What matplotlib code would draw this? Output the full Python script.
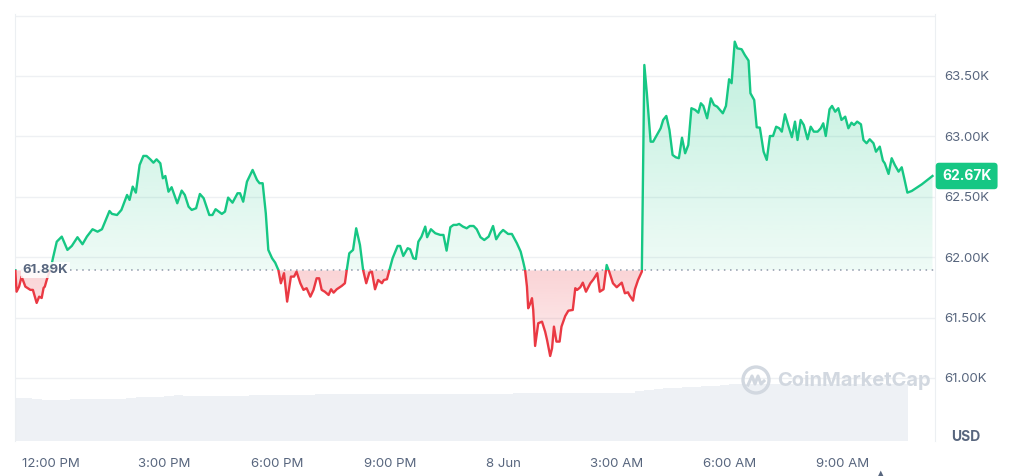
import numpy as np
import matplotlib
matplotlib.use('Agg')
import matplotlib.pyplot as plt
from matplotlib.path import Path
from matplotlib.patches import Rectangle, Ellipse
from matplotlib.lines import Line2D

plt.rcParams['font.family'] = ['Inter', 'DejaVu Sans']

# BTC price, minutes after 11:00 AM on 7 Jun
minutes = [3, 5, 9, 13, 19, 27, 31, 37, 41, 45, 48, 50, 53, 60, 63, 69, 77, 86, 93, 102,
           110, 117, 126, 134, 141, 153, 157, 165, 172, 181, 185, 190, 195, 201, 207, 212, 218, 223, 228, 234,
           238, 242, 247, 252, 261, 268, 273, 279, 284, 291, 297, 303, 312, 317, 322,
           332, 337, 342, 349, 357, 361, 366, 372, 381, 388, 392, 397, 402, 406, 412, 417, 422, 426, 431, 436,
           442, 447, 451, 457, 462, 467, 473, 478, 483, 487, 491, 496, 502, 506, 510, 515, 523, 528, 531, 535,
           541, 546, 552, 557, 562, 567, 571, 576, 581, 587, 590, 595, 599, 604, 612, 616, 621, 628, 632, 637,
           641, 645, 650, 656, 659, 665, 672, 680, 685, 690, 696, 701, 706, 710, 716, 722, 727, 733, 738, 744,
           750, 757, 764, 769, 775, 780, 788, 794, 802, 808, 812, 815, 818, 820, 823, 826, 828, 831, 836, 842,
           847, 850, 855, 858, 861, 865, 870, 873, 879, 884, 891, 895, 898, 903, 907, 912, 919, 924, 930, 934,
           940, 945, 949, 955, 961, 969, 974, 979, 981, 987, 990, 995, 1001, 1005, 1009, 1015, 1019, 1025, 1031,
           1035, 1040, 1045, 1050, 1055, 1060, 1065, 1070, 1075, 1080, 1086, 1091, 1095, 1099, 1105, 1111, 1116,
           1121, 1130, 1135, 1140, 1144, 1149, 1153, 1160, 1165, 1171, 1174, 1180, 1184, 1189, 1195, 1200, 1205,
           1210, 1215, 1220, 1224, 1229, 1234, 1240, 1245, 1249, 1254, 1259, 1265, 1270, 1275, 1281, 1286, 1290,
           1294, 1300, 1304, 1309, 1314, 1319, 1325, 1330, 1335, 1339, 1344, 1350, 1354, 1359, 1364, 1370, 1374,
           1380, 1385, 1388, 1394, 1399, 1404, 1410, 1415, 1419, 1424, 1431, 1447, 1464]
price = [61890, 61714, 61756, 61839, 61756, 61729, 61729, 61621, 61673, 61662, 61745, 61756, 61811, 61921,
         61993, 62128, 62170, 62060, 62093, 62165, 62107, 62170, 62231, 62211, 62231, 62382, 62358, 62349,
         62391, 62515, 62474, 62584, 62534, 62763, 62838, 62838, 62810, 62782, 62810, 62777, 62653, 62672,
         62542, 62579, 62446, 62551, 62515, 62418, 62391, 62405, 62523, 62488, 62349, 62349, 62397, 62358,
         62377, 62493, 62451, 62529, 62529, 62459, 62625, 62722, 62639, 62612, 62612, 62363, 62060, 61991,
         61954, 61894, 61784, 61867, 61632, 61839, 61839, 61880, 61784, 61729, 61743, 61673, 61729, 61825,
         61825, 61729, 61714, 61687, 61734, 61706, 61734, 61762, 61784, 61894, 62032, 62060, 62239, 62101,
         61894, 61784, 61872, 61880, 61734, 61811, 61784, 61811, 61817, 61894, 61991, 62093, 62093, 62010,
         62074, 62065, 61991, 61985, 62128, 62170, 62253, 62165, 62231, 62198, 62184, 62184, 62054, 62248,
         62267, 62267, 62275, 62253, 62239, 62258, 62258, 62231, 62165, 62142, 62170, 62258, 62148, 62198,
         62225, 62192, 62192, 62115, 62046, 61963, 61894, 61756, 61577, 61613, 61660, 61563, 61265, 61453,
         61466, 61383, 61315, 61182, 61246, 61425, 61301, 61301, 61425, 61513, 61557, 61563, 61743, 61729,
         61751, 61789, 61714, 61784, 61817, 61867, 61714, 61734, 61935, 61880, 61784, 61751, 61789, 61701,
         61709, 61687, 61640, 61734, 61811, 61880,
         63591, 63357, 62956, 62956, 63012, 63067, 63136, 63169, 63053, 62846, 62827, 62819, 62989, 62860,
         62929, 63233, 63219, 63196, 63274,
         63252, 63150, 63315, 63260, 63246, 63191, 63252, 63473, 63440, 63784, 63729, 63721, 63674, 63627,
         63357, 63301, 63075, 63072, 62873, 62805, 63003, 63003, 63080, 63067, 63039, 63183, 63094, 62993,
         63122, 62970, 63136, 63094, 62976, 63080, 63039, 63039, 63067, 63108, 63003, 63224, 63252, 63204,
         63233, 63136, 63163, 63067, 63113, 63094, 63122, 63100, 62970, 62943, 62976, 62943, 62873, 62915,
         62799, 62777, 62689, 62819, 62763, 62708, 62744, 62653, 62534, 62548, 62603, 62672]
open_price = 61890

# 24h volume (USD bn), 15-minute buckets from 11:00 AM
vol_step = 15
volume = [21.5, 21.5, 21, 20.5, 20.5, 20.5, 21, 21, 21, 21, 21, 21,
          21.5, 22, 22, 22, 22.5, 23, 22.5, 22.5, 22.5, 22.5, 22.5, 22.5,
          22.5, 23, 23, 23, 23, 23, 23, 23,
          23.5, 23.5, 23.5, 23.5, 23.5, 23.5, 23.5, 23.5, 23.5, 23.5,
          23.5, 23.5, 23.5, 23.5, 23.5, 23.5, 23.5, 23.5, 23.5, 23.5,
          23.5, 24, 24, 24, 24, 24, 24, 24, 24, 24, 24, 24,
          24, 24, 25, 25.5, 26, 26.5, 26.5, 27, 27, 27.5, 27.5, 28,
          28.5, 28.5, 28.5, 28.5, 28.5, 28.5, 28.5, 28.5,
          28.5, 28.5, 28.5, 28.5, 28.5, 28.5, 28.5, 28.5, 28.5, 28.5, 28.5]

tick_min = [60, 240, 420, 600, 780, 960, 1140, 1320]
tick_lab = ['12:00 PM', '3:00 PM', '6:00 PM', '9:00 PM', '8 Jun', '3:00 AM', '6:00 AM', '9:00 AM']
price_ticks = [61000, 61500, 62000, 62500, 63000, 63500]

GREEN, RED, GREY = '#16c784', '#ea3943', '#58667e'
t = np.array(minutes, float)
p = np.array(price, float)
x0, x1 = 2.5, 1468
y0, y1 = 60478, 64013

W, H = 1017, 476
fig = plt.figure(figsize=(W / 100, H / 100), dpi=100)
rect = [15 / W, 1 - 441 / H, 920 / W, 427 / H]

axv = fig.add_axes(rect, zorder=0)
axv.bar(np.arange(len(volume)) * vol_step, volume, width=vol_step, align='edge',
        color='#eef1f5', linewidth=0)
axv.set_xlim(x0, x1)
axv.set_ylim(0, 213.5)
axv.axis('off')

ax = fig.add_axes(rect, zorder=1)
ax.patch.set_alpha(0)
for v in price_ticks + [64000]:
    ax.axhline(v, color='#eef0f3', lw=1, zorder=0)

# gradient fills above / below the opening price
def grad_fill(mask_up, color, a_top, a_bot, lo, hi):
    poly = ax.fill_between(t, p, open_price, where=(p >= open_price) if mask_up else (p <= open_price),
                           interpolate=True, facecolor='none', edgecolor='none')
    path = Path.make_compound_path(*poly.get_paths())
    rgb = matplotlib.colors.to_rgb(color)
    n = 256
    arr = np.zeros((n, 1, 4))
    arr[..., :3] = rgb
    arr[:, 0, 3] = np.linspace(a_top, a_bot, n)
    im = ax.imshow(arr, extent=[x0, x1, lo, hi], aspect='auto', origin='upper',
                   interpolation='bilinear', zorder=2)
    im.set_clip_path(path, ax.transData)

grad_fill(True, GREEN, 0.30, 0.07, open_price, y1)
grad_fill(False, RED, 0.22, 0.06, 61000, open_price)

ax.axhline(open_price, color='#8f99aa', lw=1.1, ls=(0, (1, 3)), zorder=3)

g, = ax.plot(t, p, color=GREEN, lw=1.7, zorder=4, solid_joinstyle='round')
g.set_clip_path(Rectangle((x0, open_price), x1 - x0, y1 - open_price, transform=ax.transData))
r, = ax.plot(t, p, color=RED, lw=1.7, zorder=4, solid_joinstyle='round')
r.set_clip_path(Rectangle((x0, y0), x1 - x0, open_price - y0, transform=ax.transData))

ax.set_xlim(x0, x1)
ax.set_ylim(y0, y1)
for s in ['top', 'bottom']:
    ax.spines[s].set_visible(False)
for s in ['left', 'right']:
    ax.spines[s].set_color('#eceff2')

ax.yaxis.tick_right()
ax.set_yticks(price_ticks)
ax.set_yticklabels([f'{v / 1000:.2f}K' for v in price_ticks])
ax.tick_params(axis='y', length=0, pad=7, labelsize=9.5, labelcolor=GREY)
ax.set_xticks(tick_min)
ax.set_xticklabels(tick_lab)
ax.tick_params(axis='x', length=0, pad=12, labelsize=9.5, labelcolor=GREY)

ax.annotate(f'{open_price / 1000:.2f}K', xy=(0, open_price), xycoords=('axes fraction', 'data'),
            xytext=(5.5, 0), textcoords='offset points', ha='left', va='center',
            fontsize=9.5, fontweight='bold', color=GREY, zorder=6,
            bbox=dict(boxstyle='square,pad=0.15', fc='white', ec='none', alpha=0.85))

ax.annotate(f'{price[-1] / 1000:.2f}K', xy=(1, price[-1]), xycoords=('axes fraction', 'data'),
            xytext=(5, 0), textcoords='offset points', ha='left', va='center',
            fontsize=10, fontweight='bold', color='white', annotation_clip=False,
            bbox=dict(boxstyle='round,pad=0.45,rounding_size=0.25', fc=GREEN, ec='none'))

fig.text(966 / W, 1 - 437 / H, 'USD', ha='center', va='center', fontsize=10,
         fontweight='bold', color=GREY)

# watermark
wm = '#d2d8e0'
fig.text(777 / W, 1 - 381 / H, 'CoinMarketCap', ha='left', va='center', fontsize=14.5,
         fontweight='bold', color=wm, zorder=5)
fig.add_artist(Ellipse((756 / W, 1 - 380 / H), 26 / W, 26 / H, fill=False, ec=wm, lw=2.4, zorder=5))
lx = np.array([748, 752, 755, 758, 761, 764])
ly = np.array([385, 376, 384, 376, 384, 381])
fig.add_artist(Line2D(lx / W, 1 - ly / H, color=wm, lw=2.2, zorder=5))

fig.text(881 / W, 0.004, '\u25b2', ha='center', va='center', fontsize=7, color=GREY,
         family='DejaVu Sans')

fig.savefig('out.png')
